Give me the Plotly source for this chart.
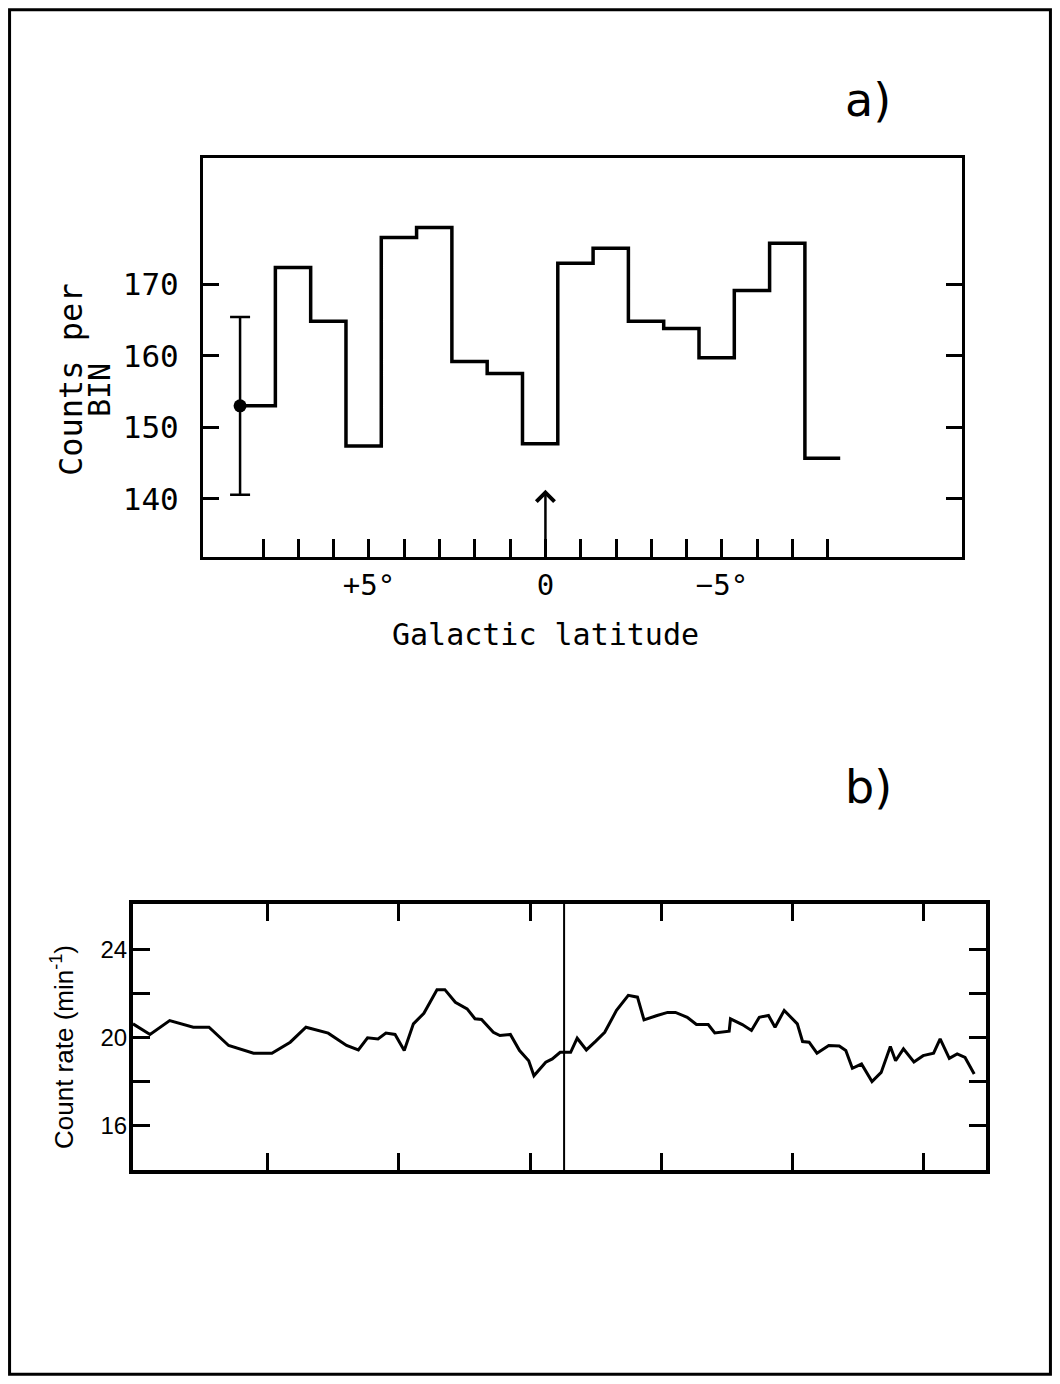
import plotly.graph_objects as go

# panel a: counts per bin vs galactic latitude (degrees, bin edges)
bin_edges = [8.65, 7.65, 6.65, 5.65, 4.65, 3.65, 2.65, 1.65, 0.65, -0.35,
             -1.35, -2.35, -3.35, -4.35, -5.35, -6.35, -7.35, -8.35]
counts = [153.0, 172.3, 164.8, 147.4, 176.5, 177.9, 159.2, 157.5, 147.7,
          172.9, 175.0, 164.8, 163.8, 159.7, 169.1, 175.7, 145.7]
err_x = [8.65]
err_y = [153.0]
err_size = [12.4]
lat_ticks = [8, 7, 6, 5, 4, 3, 2, 1, 0, -1, -2, -3, -4, -5, -6, -7, -8]
lat_labels = ["", "", "", "+5°", "", "", "", "", "0", "", "", "", "", "−5°", "", "", ""]
count_ticks = [140, 150, 160, 170]

# panel b: count rate scan
scan_x = [-0.03, 0.10, 0.25, 0.43, 0.55, 0.70, 0.89, 1.03, 1.17, 1.29, 1.46, 1.60,
          1.69, 1.76, 1.84, 1.90, 1.97, 2.04, 2.11, 2.19, 2.29, 2.35, 2.43, 2.52,
          2.58, 2.63, 2.72, 2.77, 2.85, 2.92, 2.99, 3.03, 3.12, 3.17, 3.23, 3.31,
          3.36, 3.43, 3.50, 3.57, 3.66, 3.75, 3.82, 3.87, 3.97, 4.05, 4.11, 4.20,
          4.27, 4.36, 4.41, 4.52, 4.53, 4.62, 4.69, 4.75, 4.82, 4.87, 4.94, 5.04,
          5.08, 5.13, 5.19, 5.28, 5.36, 5.41, 5.46, 5.53, 5.61, 5.68, 5.75, 5.79,
          5.85, 5.93, 6.00, 6.08, 6.13, 6.20, 6.26, 6.32, 6.39]
scan_rate = [20.62, 20.14, 20.77, 20.47, 20.47, 19.64, 19.29, 19.29, 19.79, 20.47,
             20.20, 19.64, 19.44, 19.99, 19.94, 20.20, 20.14, 19.41, 20.62, 21.10,
             22.17, 22.17, 21.60, 21.30, 20.85, 20.82, 20.24, 20.09, 20.14, 19.41,
             18.95, 18.27, 18.88, 19.03, 19.33, 19.33, 19.97, 19.44, 19.83, 20.24,
             21.23, 21.91, 21.83, 20.80, 21.00, 21.14, 21.14, 20.92, 20.59, 20.59,
             20.21, 20.29, 20.85, 20.59, 20.32, 20.92, 21.00, 20.47, 21.23, 20.62,
             19.82, 19.79, 19.29, 19.64, 19.62, 19.41, 18.61, 18.80, 18.01, 18.42,
             19.59, 18.95, 19.49, 18.89, 19.18, 19.29, 19.94, 19.06, 19.26, 19.10,
             18.35]
plane_x = 3.26
scan_ticks = [1, 2, 3, 4, 5, 6]
rate_ticks = [16, 18, 20, 22, 24]
rate_labels = ["16", "", "20", "", "24"]

# page body has an 8px margin, so the figure is 16px smaller than the window
OFF = 8
W, H = 1060 - 2 * OFF, 1384 - 2 * OFF
mono = "DejaVu Sans Mono"
sans = "Liberation Sans Narrow, Liberation Sans, Arial"


def px(x):
    return (x - OFF) / W


def py(y):
    return 1 - (y - OFF) / H


fig = go.Figure()
fig.add_trace(go.Scatter(x=bin_edges, y=counts + [counts[-1]], mode='lines',
                         line=dict(color='black', width=3.5, shape='hv'),
                         xaxis='x', yaxis='y', showlegend=False))
fig.add_trace(go.Scatter(x=err_x, y=err_y, mode='markers',
                         marker=dict(color='black', size=13),
                         error_y=dict(type='data', array=err_size, color='black',
                                      thickness=2.5, width=10),
                         xaxis='x', yaxis='y', showlegend=False))
fig.add_trace(go.Scatter(x=scan_x, y=scan_rate, mode='lines',
                         line=dict(color='black', width=3),
                         xaxis='x2', yaxis='y2', showlegend=False))

fig.add_shape(type='line', xref='x2', yref='y2 domain', x0=plane_x, x1=plane_x,
              y0=0, y1=1, line=dict(color='black', width=2))
# page border
fig.add_shape(type='rect', xref='paper', yref='paper', x0=0.0015, x1=0.9985,
              y0=0.0012, y1=0.9988, line=dict(color='black', width=3))

# arrow marking b = 0
fig.add_annotation(x=0, y=141.3, ax=0, ay=133.0, xref='x', yref='y', axref='x', ayref='y',
                   text='', showarrow=True, arrowhead=4, arrowsize=1.4, arrowwidth=2.5,
                   arrowcolor='black')

fig.add_annotation(x=px(71), y=py(380), xref='paper', yref='paper', text='Counts per',
                   textangle=-90, showarrow=False, xanchor='center', yanchor='middle',
                   font=dict(family=mono, size=32, color='black'))
fig.add_annotation(x=px(100), y=py(390), xref='paper', yref='paper', text='BIN',
                   textangle=-90, showarrow=False, xanchor='center', yanchor='middle',
                   font=dict(family=mono, size=30, color='black'))
fig.add_annotation(x=px(545), y=py(634), xref='paper', yref='paper', text='Galactic latitude',
                   showarrow=False, xanchor='center', yanchor='middle',
                   font=dict(family=mono, size=30, color='black'))
fig.add_annotation(x=px(868), y=py(100), xref='paper', yref='paper', text='a)',
                   showarrow=False, xanchor='center', yanchor='middle',
                   font=dict(family="DejaVu Sans", size=46, color='black'))
fig.add_annotation(x=px(868), y=py(787), xref='paper', yref='paper', text='b)',
                   showarrow=False, xanchor='center', yanchor='middle',
                   font=dict(family="DejaVu Sans", size=46, color='black'))
fig.add_annotation(x=px(62), y=py(1047), xref='paper', yref='paper',
                   text='Count rate (min<sup>-1</sup>)', textangle=-90, showarrow=False,
                   xanchor='center', yanchor='middle',
                   font=dict(family=sans, size=26, color='black'))

fig.update_layout(
    width=W, height=H, margin=dict(l=0, r=0, t=0, b=0),
    paper_bgcolor='white', plot_bgcolor='white',
    xaxis=dict(domain=[px(203), px(962)], range=[9.7, -11.8], anchor='y',
               tickmode='array', tickvals=lat_ticks, ticktext=lat_labels,
               ticks='inside', ticklen=18, tickwidth=2.5, tickcolor='black',
               showline=True, linecolor='black', linewidth=3, mirror=True,
               showgrid=False, zeroline=False, automargin=False,
               tickfont=dict(family=mono, size=29, color='black')),
    yaxis=dict(domain=[py(557), py(158)], range=[131.9, 187.6], anchor='x',
               tickmode='array', tickvals=count_ticks,
               ticks='inside', ticklen=16, tickwidth=2.5, tickcolor='black',
               showline=True, linecolor='black', linewidth=3, mirror='allticks',
               showgrid=False, zeroline=False, automargin=False, ticklabelstandoff=15,
               tickfont=dict(family=mono, size=31, color='black')),
    xaxis2=dict(domain=[px(133), px(986)], range=[-0.03, 6.48], anchor='y2',
                tickmode='array', tickvals=scan_ticks, showticklabels=False,
                ticks='inside', ticklen=17, tickwidth=2.5, tickcolor='black',
                showline=True, linecolor='black', linewidth=4, mirror='allticks',
                showgrid=False, zeroline=False, automargin=False),
    yaxis2=dict(domain=[py(1170), py(904)], range=[14, 26.05], anchor='x2',
                tickmode='array', tickvals=rate_ticks, ticktext=rate_labels,
                ticks='inside', ticklen=17, tickwidth=2.5, tickcolor='black',
                showline=True, linecolor='black', linewidth=4, mirror='allticks',
                showgrid=False, zeroline=False, automargin=False, ticklabelstandoff=-3,
                tickfont=dict(family=sans, size=24, color='black')),
)

fig.write_html("out.html")
